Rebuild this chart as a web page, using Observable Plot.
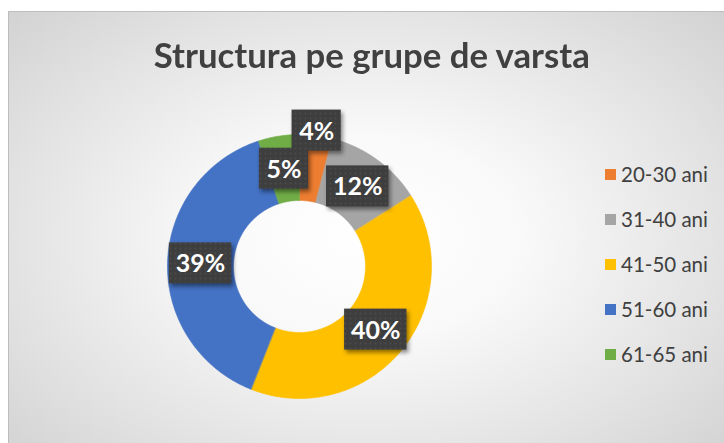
<!DOCTYPE html>
<html>
<head>
<meta charset="utf-8">
<script src="https://cdn.jsdelivr.net/npm/d3@7"></script>
<script src="https://cdn.jsdelivr.net/npm/@observablehq/plot@0.6"></script>
<style>
  html, body { margin: 0; padding: 0; background: #ffffff; width: 724px; height: 443px; overflow: hidden; }
  #frame {
    position: absolute; left: 8px; top: 11px; width: 716px; height: 432px;
    box-sizing: border-box; overflow: hidden;
    border-top: 1px solid #bdbdbd; border-left: 1px solid #bdbdbd;
    background: radial-gradient(ellipse 72% 78% at 50% 52%, #ffffff 0%, #f9f9f9 30%, #e2e2e2 70%, #d0d0d0 100%);
  }
  #title {
    position: absolute; left: 5px; top: 25px; width: 716px; text-align: center;
    font-family: Lato, "Open Sans", sans-serif; font-weight: 700; font-size: 35px; line-height: 35px;
    color: #404040; white-space: nowrap;
  }
  #title span { display: inline-block; transform-origin: 50% 50%; }
  #chart { position: absolute; left: -1px; top: -1px; }
  #chart svg { background: transparent !important; }
  #legend { position: absolute; left: 596px; top: 0; }
  .item { position: absolute; left: 0; white-space: nowrap; height: 20px; }
  .sw { position: absolute; left: 0; top: 5px; width: 11px; height: 11px; }
  .lt { position: absolute; left: 16px; top: 0; font-family: Lato, "Open Sans", sans-serif; font-size: 20.5px; line-height: 20px; color: #404040; }
  g[aria-label="rect"] { filter: drop-shadow(2px 3px 2px rgba(0,0,0,0.45)); }
</style>
</head>
<body>
<svg width="0" height="0" style="position:absolute">
  <defs>
    <pattern id="dots" width="5" height="5" patternUnits="userSpaceOnUse">
      <rect width="5" height="5" fill="#3e3e3e"></rect>
      <circle cx="2.5" cy="2.5" r="0.9" fill="#4c4c4c"></circle>
    </pattern>
  </defs>
</svg>
<div id="frame">
  <div id="chart"></div>
  <div id="title"><span>Structura pe grupe de varsta</span></div>
  <div id="legend"></div>
</div>
<script>
// ---- data ----
const categories = ["20-30 ani", "31-40 ani", "41-50 ani", "51-60 ani", "61-65 ani"];
const shares = [4, 12, 40, 39, 5];
const colors = ["#ED7D31", "#A5A5A5", "#FFC000", "#4472C4", "#70AD47"];

// ---- layout ----
const W = 716, H = 432;
const cx = 291, cy = 255;       // donut centre inside the frame (px)
const R = 132, r0 = 66;         // outer / inner radius
const labelNudge = {"20-30 ani": 137}; // label pushed outward (as in reference)

const pie = d3.pie().sort(null).value(d => d.share);
const slices = pie(categories.map((c, i) => ({cat: c, share: shares[i]})));

// polygon outline points of each ring segment
const ringPts = [];
for (const s of slices) {
  const n = Math.max(8, Math.ceil((s.endAngle - s.startAngle) / 0.01));
  for (let k = 0; k <= n; k++) {
    const a = s.startAngle + (s.endAngle - s.startAngle) * k / n;
    ringPts.push({cat: s.data.cat, x: R * Math.sin(a), y: R * Math.cos(a)});
  }
  for (let k = n; k >= 0; k--) {
    const a = s.startAngle + (s.endAngle - s.startAngle) * k / n;
    ringPts.push({cat: s.data.cat, x: r0 * Math.sin(a), y: r0 * Math.cos(a)});
  }
}

const labelsData = slices.map(s => {
  const mid = (s.startAngle + s.endAngle) / 2;
  const rad = labelNudge[s.data.cat] ?? (R + r0) / 2;
  const text = s.data.share + "%";
  const w = 17 + 13.2 * (text.length - 1) + 19;
  return {cat: s.data.cat, text, x: rad * Math.sin(mid), y: rad * Math.cos(mid), w, h: 41};
});

const chart = Plot.plot({
  width: W, height: H,
  margin: 0,
  style: {background: "transparent", overflow: "visible"},
  x: {domain: [-cx, W - cx], axis: null},
  y: {domain: [-(H - cy), cy], axis: null},
  color: {domain: categories, range: colors},
  marks: [
    Plot.line(ringPts, {x: "x", y: "y", z: "cat", fill: "cat", stroke: "cat", strokeWidth: 0.6, curve: "linear-closed"}),
    Plot.rect(labelsData, {
      x1: d => d.x - d.w / 2, x2: d => d.x + d.w / 2,
      y1: d => d.y - d.h / 2, y2: d => d.y + d.h / 2,
      fill: "url(#dots)"
    }),
    Plot.text(labelsData, {
      x: "x", y: "y", text: "text", dy: 1,
      fill: "white", fontWeight: "bold", fontSize: 25,
      fontFamily: "Lato, 'Open Sans', sans-serif"
    })
  ]
});
document.getElementById("chart").appendChild(chart);

// legend
const legend = document.getElementById("legend");
categories.forEach((c, i) => {
  const it = document.createElement("div");
  it.className = "item";
  it.style.top = (152 + i * 45) + "px";
  it.innerHTML = `<div class="sw" style="background:${colors[i]}"></div><div class="lt">${c}</div>`;
  legend.appendChild(it);
});

// fit title to reference width
const span = document.querySelector("#title span");
const tw = span.getBoundingClientRect().width;
span.style.transform = `scaleX(${(436 / tw).toFixed(4)})`;
</script>
</body>
</html>
